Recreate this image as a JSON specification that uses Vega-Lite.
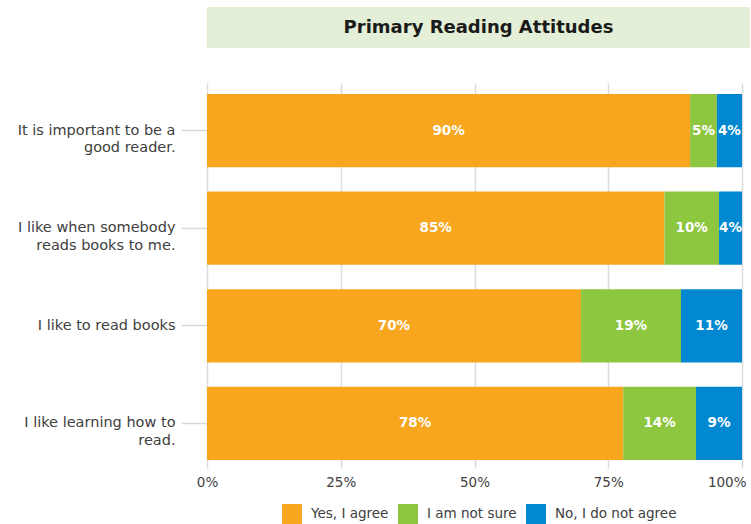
{
  "$schema": "https://vega.github.io/schema/vega-lite/v6.json",
  "background": "white",
  "padding": {"left": 17, "top": 7, "right": 0, "bottom": 0},
  "bounds": "flush",
  "spacing": 35,
  "config": {"font": "DejaVu Sans", "view": {"stroke": null}},
  "vconcat": [
    {
      "data": {"values": [{"title": "Primary Reading Attitudes"}]},
      "width": 543,
      "height": 41,
      "view": {"fill": "#e3efd6", "stroke": null},
      "mark": {"type": "text", "fontSize": 18, "fontWeight": "bold", "color": "#1a1a1a"},
      "encoding": {"text": {"field": "title", "type": "nominal"}}
    },
    {
      "data": {"values": [
        {"question": "It is important to be a|good reader.", "response": "Yes, I agree", "rank": 1, "value": 90.3, "label": "90%"},
        {"question": "It is important to be a|good reader.", "response": "I am not sure", "rank": 2, "value": 5.0, "label": "5%"},
        {"question": "It is important to be a|good reader.", "response": "No, I do not agree", "rank": 3, "value": 4.7, "label": "4%"},
        {"question": "I like when somebody|reads books to me.", "response": "Yes, I agree", "rank": 1, "value": 85.5, "label": "85%"},
        {"question": "I like when somebody|reads books to me.", "response": "I am not sure", "rank": 2, "value": 10.2, "label": "10%"},
        {"question": "I like when somebody|reads books to me.", "response": "No, I do not agree", "rank": 3, "value": 4.3, "label": "4%"},
        {"question": "I like to read books", "response": "Yes, I agree", "rank": 1, "value": 69.9, "label": "70%"},
        {"question": "I like to read books", "response": "I am not sure", "rank": 2, "value": 18.7, "label": "19%"},
        {"question": "I like to read books", "response": "No, I do not agree", "rank": 3, "value": 11.4, "label": "11%"},
        {"question": "I like learning how to|read.", "response": "Yes, I agree", "rank": 1, "value": 77.8, "label": "78%"},
        {"question": "I like learning how to|read.", "response": "I am not sure", "rank": 2, "value": 13.6, "label": "14%"},
        {"question": "I like learning how to|read.", "response": "No, I do not agree", "rank": 3, "value": 8.6, "label": "9%"}
      ]},
      "width": 535,
      "height": 385,
      "encoding": {
        "y": {
          "field": "question", "type": "nominal", "sort": null,
          "scale": {"paddingInner": 0.25, "paddingOuter": 0.097, "align": 0.58},
          "axis": {
            "title": null, "domain": false, "ticks": true, "tickSize": 26, "tickColor": "#d9d9d9", "tickWidth": 1.5,
            "labelPadding": 6, "labelFontSize": 14.5, "labelColor": "#404040", "labelLineHeight": 17.5,
            "labelExpr": "split(datum.label, '|')", "labelLimit": 300
          }
        },
        "x": {
          "field": "value", "type": "quantitative", "stack": "normalize",
          "scale": {"domain": [0, 1]},
          "axis": {
            "title": null, "format": "%", "domain": false, "ticks": false, "tickSize": 0, "labelPadding": 7,
            "grid": true, "gridColor": "#dcdcdc", "gridWidth": 1.5, "values": [0, 0.25, 0.5, 0.75, 1],
            "labelFontSize": 13.5, "labelColor": "#404040",
            "labelAlign": {"condition": {"test": "datum.value == 1", "value": "right"}, "value": "center"},
            "labelOffset": {"condition": {"test": "datum.value == 1", "value": 4}, "value": 0}
          }
        }
      },
      "layer": [
        {
          "mark": {"type": "bar"},
          "encoding": {
            "color": {
              "field": "response", "type": "nominal",
              "scale": {"domain": ["Yes, I agree", "I am not sure", "No, I do not agree"], "range": ["#f7a61e", "#8dc63f", "#0288d1"]},
              "legend": {
                "title": null, "orient": "none", "direction": "horizontal", "legendX": 75, "legendY": 497,
                "symbolType": "square", "symbolSize": 400, "symbolStrokeWidth": 0, "symbolOpacity": 1,
                "labelFontSize": 13.5, "labelColor": "#404040", "labelOffset": 9, "columnPadding": 9, "padding": 0
              }
            },
            "order": {"field": "rank", "type": "quantitative"}
          }
        },
        {
          "mark": {"type": "text", "color": "white", "fontWeight": "bold", "fontSize": 13.5},
          "encoding": {
            "x": {"field": "value", "type": "quantitative", "stack": "normalize", "bandPosition": 0.5},
            "detail": {"field": "response", "type": "nominal"},
            "order": {"field": "rank", "type": "quantitative"},
            "text": {"field": "label", "type": "nominal"}
          }
        }
      ]
    }
  ]
}
